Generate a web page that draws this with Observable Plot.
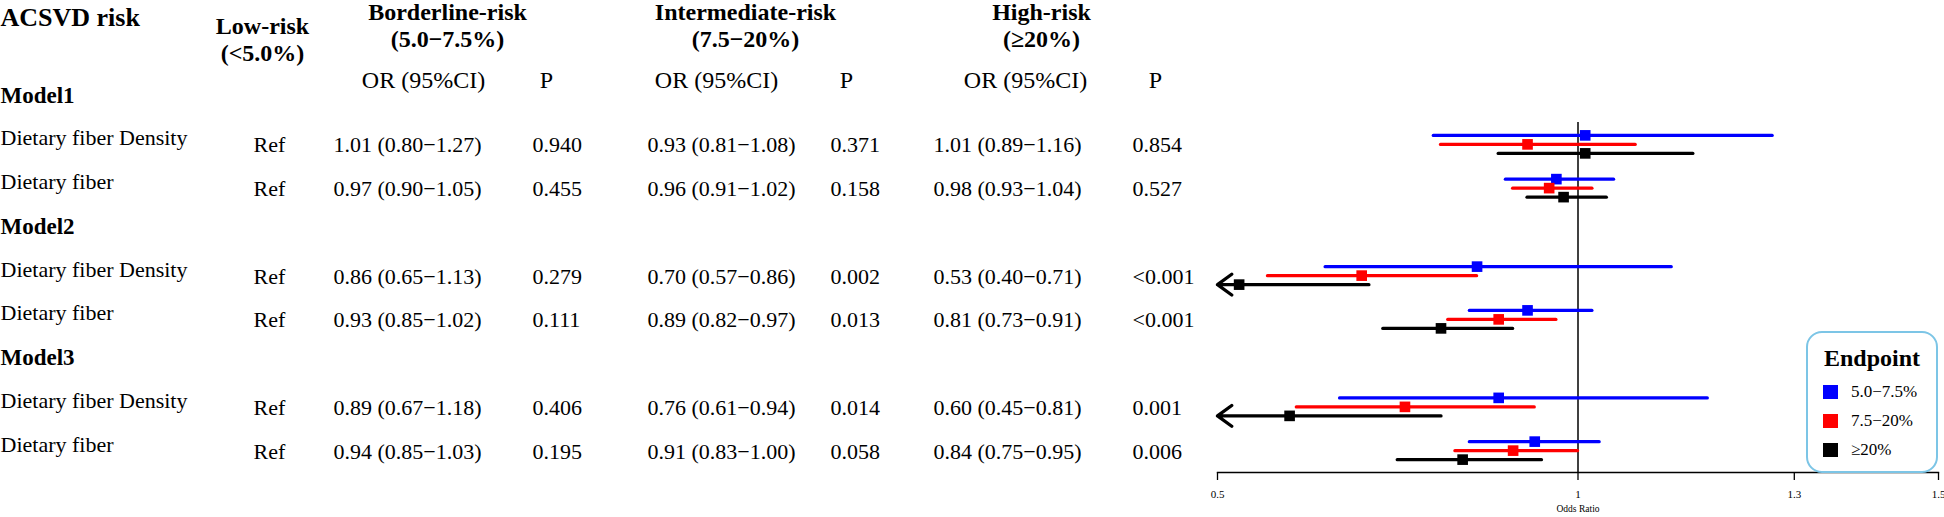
<!DOCTYPE html>
<html>
<head>
<meta charset="utf-8">
<script src="https://cdn.jsdelivr.net/npm/d3@7"></script>
<script src="https://cdn.jsdelivr.net/npm/@observablehq/plot@0.6"></script>
<style>
  body { margin: 0; background: #fff; }
  #wrap { position: relative; width: 1944px; height: 517px; overflow: hidden; background: #fff; }
  #wrap > svg { position: absolute; left: 0; top: 0; }
  #legend { position: absolute; left: 1806px; top: 331px; width: 132px; height: 142px;
            box-sizing: border-box; border: 2px solid #7cc5e6; border-radius: 16px; background: transparent;
            font-family: "Liberation Serif", "Times New Roman", serif; color: #000; }
  #legend .ttl { position: absolute; left: 0; right: 0; top: 10px; height: 30px; line-height: 30px; text-align: center;
                 font-weight: bold; font-size: 24px; }
  #legend .items { position: absolute; left: 15px; top: 44px; }
  #legend .item { height: 29px; display: flex; align-items: center; font-size: 17px; white-space: nowrap; }
  #legend .sq { width: 15px; height: 14px; margin-right: 13px; flex-shrink: 0; }
</style>
</head>
<body>
<div id="wrap"></div>
<script>
// ---------------- data ----------------
const models = ["Model1", "Model2", "Model3"];
const exposures = ["Dietary fiber Density", "Dietary fiber"];
const endpoints = ["5.0−7.5%", "7.5−20%", "≥20%"];
const endpointColors = ["#0000ff", "#ff0000", "#000000"];
const riskGroups = ["Low-risk", "Borderline-risk", "Intermediate-risk", "High-risk"];
const riskRanges = ["(<5.0%)", "(5.0−7.5%)", "(7.5−20%)", "(≥20%)"];
const refLabel = "Ref";
const orHeader = "OR (95%CI)";
const pHeader = "P";
// order: Model1 Density, Model1 fiber, Model2 Density, Model2 fiber, Model3 Density, Model3 fiber
const orBorderline = [1.01, 0.97, 0.86, 0.93, 0.89, 0.94];
const loBorderline = [0.80, 0.90, 0.65, 0.85, 0.67, 0.85];
const hiBorderline = [1.27, 1.05, 1.13, 1.02, 1.18, 1.03];
const pBorderline = ["0.940", "0.455", "0.279", "0.111", "0.406", "0.195"];
const orIntermediate = [0.93, 0.96, 0.70, 0.89, 0.76, 0.91];
const loIntermediate = [0.81, 0.91, 0.57, 0.82, 0.61, 0.83];
const hiIntermediate = [1.08, 1.02, 0.86, 0.97, 0.94, 1.00];
const pIntermediate = ["0.371", "0.158", "0.002", "0.013", "0.014", "0.058"];
const orHigh = [1.01, 0.98, 0.53, 0.81, 0.60, 0.84];
const loHigh = [0.89, 0.93, 0.40, 0.73, 0.45, 0.75];
const hiHigh = [1.16, 1.04, 0.71, 0.91, 0.81, 0.95];
const pHigh = ["0.854", "0.527", "<0.001", "<0.001", "0.001", "0.006"];
const xTicks = [0.5, 1, 1.3, 1.5];
const xDomain = [0.5, 1.5];
const axisTitle = "Odds Ratio";
const legendTitle = "Endpoint";
const tableTitle = "ACSVD risk";

// ---------------- layout ----------------
const W = 1944, H = 517;
const M = {top: 122, bottom: 45, left: 1217, right: 6};
const serif = "'Liberation Serif', 'Times New Roman', serif";
const L = {
  catCenter: [262, 447, 745, 1041],
  catLastBaseline: [60, 46, 46, 46],
  acsvdBaseline: 25,
  headBaseline: 87,
  orHeadCenter: [423, 716, 1025],
  pHeadCenter: [546, 846, 1155],
  orLeft: [333, 647, 933],
  pLeft: [532, 830, 1132],
  refLeft: 253,
  labelDy: 1,
  valueDy: 8,
  modelDy: 2,
  subRowPx: 9
};
const step = (H - M.top - M.bottom) / 8;
const off = L.subRowPx / step;

// ---------------- build rows ----------------
const seriesDefs = [
  {or: orBorderline, lo: loBorderline, hi: hiBorderline, p: pBorderline},
  {or: orIntermediate, lo: loIntermediate, hi: hiIntermediate, p: pIntermediate},
  {or: orHigh, lo: loHigh, hi: hiHigh, p: pHigh}
];
const table = [];
const forest = [];
models.forEach((m, mi) => exposures.forEach((e, ei) => {
  const i = mi * 2 + ei;
  const row = mi * 3 + 1 + ei;
  table.push({row, exposure: e, i});
  seriesDefs.forEach((s, k) => forest.push({
    endpoint: endpoints[k], k, y: row + (k - 1) * off,
    or: s.or[i], lo: s.lo[i], hi: s.hi[i]
  }));
}));
const fmt = (s, i) => `${s.or[i].toFixed(2)} (${s.lo[i].toFixed(2)}−${s.hi[i].toFixed(2)})`;

const marks = [];
// header
marks.push(Plot.text([tableTitle], {
  text: d => d, frameAnchor: "top-left", dx: -M.left, dy: L.acsvdBaseline - M.top,
  textAnchor: "start", lineAnchor: "bottom", fontWeight: "bold", fontSize: 26, fill: "#000"
}));
riskGroups.forEach((g, j) => marks.push(Plot.text([g + "\n" + riskRanges[j]], {
  text: d => d, frameAnchor: "top-left", dx: L.catCenter[j] - M.left, dy: L.catLastBaseline[j] - M.top,
  textAnchor: "middle", lineAnchor: "bottom", lineHeight: 1.125, fontWeight: "bold", fontSize: 24, fill: "#000"
})));
[0, 1, 2].forEach(j => {
  marks.push(Plot.text([orHeader], {
    text: d => d, frameAnchor: "top-left", dx: L.orHeadCenter[j] - M.left, dy: L.headBaseline - M.top,
    textAnchor: "middle", lineAnchor: "bottom", fontSize: 24, fill: "#000"
  }));
  marks.push(Plot.text([pHeader], {
    text: d => d, frameAnchor: "top-left", dx: L.pHeadCenter[j] - M.left, dy: L.headBaseline - M.top,
    textAnchor: "middle", lineAnchor: "bottom", fontSize: 24, fill: "#000"
  }));
});
// model labels
marks.push(Plot.text(models, {
  y: (d, i) => i * 3, text: d => d, frameAnchor: "left", dx: -M.left, dy: L.modelDy,
  textAnchor: "start", lineAnchor: "bottom", fontWeight: "bold", fontSize: 23, fill: "#000"
}));
// row labels
marks.push(Plot.text(table, {
  y: "row", text: "exposure", frameAnchor: "left", dx: -M.left, dy: L.labelDy,
  textAnchor: "start", lineAnchor: "bottom", fontSize: 22, fill: "#000"
}));
marks.push(Plot.text(table, {
  y: "row", text: () => refLabel, frameAnchor: "left", dx: L.refLeft - M.left, dy: L.valueDy,
  textAnchor: "start", lineAnchor: "bottom", fontSize: 22, fill: "#000"
}));
seriesDefs.forEach((s, j) => {
  marks.push(Plot.text(table, {
    y: "row", text: d => fmt(s, d.i), frameAnchor: "left", dx: L.orLeft[j] - M.left, dy: L.valueDy,
    textAnchor: "start", lineAnchor: "bottom", fontSize: 22, fill: "#000"
  }));
  marks.push(Plot.text(table, {
    y: "row", text: d => s.p[d.i], frameAnchor: "left", dx: L.pLeft[j] - M.left, dy: L.valueDy,
    textAnchor: "start", lineAnchor: "bottom", fontSize: 22, fill: "#000"
  }));
});
// forest
marks.push(Plot.ruleX([1], {stroke: "#000", strokeWidth: 1.5}));
marks.push(Plot.frame({anchor: "bottom", stroke: "#000", strokeWidth: 1.3}));
marks.push(Plot.axisX({ticks: xTicks, tickSize: 8, tickPadding: 10, tickFormat: d => String(d),
  fontSize: 11, label: null, stroke: "#000", strokeWidth: 1.3, fill: "#000"}));
marks.push(Plot.text([axisTitle], {text: d => d, frameAnchor: "bottom", dy: 39, fontSize: 9.5, fill: "#000"}));
marks.push(Plot.ruleY(forest.filter(d => d.lo >= xDomain[0]), {
  y: "y", x1: "lo", x2: "hi", stroke: "endpoint", strokeWidth: 3.3, strokeLinecap: "round"
}));
marks.push(Plot.arrow(forest.filter(d => d.lo < xDomain[0]), {
  x1: "hi", x2: () => xDomain[0], y1: "y", y2: "y", stroke: "endpoint", strokeWidth: 3.3,
  headLength: 8, headAngle: 72, strokeLinecap: "round", strokeLinejoin: "round"
}));
marks.push(Plot.dot(forest, {x: "or", y: "y", fill: "endpoint", symbol: "square", r: 6}));

const chart = Plot.plot({
  width: W, height: H,
  marginTop: M.top, marginBottom: M.bottom, marginLeft: M.left, marginRight: M.right,
  style: {fontFamily: serif, background: "#fff", color: "#000"},
  x: {domain: xDomain},
  y: {domain: [8.5, 0.5], axis: null},
  color: {domain: endpoints, range: endpointColors},
  marks
});
const wrap = document.getElementById("wrap");
wrap.appendChild(chart);

// legend (built from the same color scale)
const colorScale = chart.scale("color");
const leg = document.createElement("div");
leg.id = "legend";
const ttl = document.createElement("div");
ttl.className = "ttl";
ttl.textContent = legendTitle;
leg.appendChild(ttl);
const items = document.createElement("div");
items.className = "items";
colorScale.domain.forEach((name, k) => {
  const it = document.createElement("div");
  it.className = "item";
  const sq = document.createElement("span");
  sq.className = "sq";
  sq.style.background = colorScale.range[k];
  const tx = document.createElement("span");
  tx.textContent = name;
  it.appendChild(sq);
  it.appendChild(tx);
  items.appendChild(it);
});
leg.appendChild(items);
wrap.appendChild(leg);
</script>
</body>
</html>
